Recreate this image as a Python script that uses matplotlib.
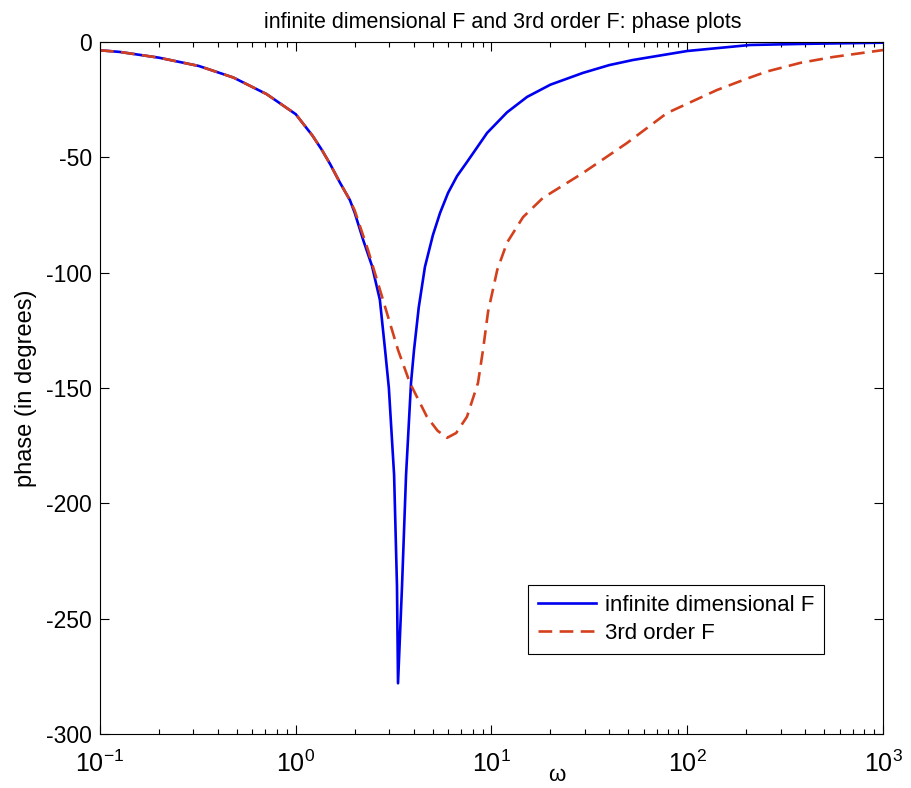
import matplotlib
matplotlib.use("Agg")
import matplotlib.pyplot as plt
import matplotlib.ticker as ticker

plt.rcParams['font.family'] = ['Liberation Sans', 'DejaVu Sans']
plt.rcParams['mathtext.fontset'] = 'custom'
plt.rcParams['mathtext.rm'] = 'Liberation Sans'
plt.rcParams['mathtext.it'] = 'Liberation Sans'
plt.rcParams['axes.unicode_minus'] = False
plt.rcParams['font.size'] = 16

# infinite dimensional F
w_inf = [0.1, 0.126, 0.2, 0.32, 0.48, 0.71, 1.0, 1.22, 1.36, 1.5, 1.68, 1.89,
         2.0, 2.21, 2.45, 2.69, 2.86, 2.99, 3.18, 3.29, 3.33, 3.49, 3.66, 3.88,
         4.02, 4.25, 4.57, 5.02, 5.46, 6.0, 6.67, 7.5, 9.5, 12.0, 15.2, 20.0,
         29.3, 40.0, 52.8, 100.0, 209.0, 400.0, 1000.0]
ph_inf = [-3.6, -4.3, -6.8, -10.4, -15.4, -22.6, -31.3, -40.7, -46.8, -53.0, -60.9, -68.5,
          -74.0, -85.8, -97.0, -111.8, -133.5, -150.0, -187.7, -236.0, -278.0, -236.0, -187.7, -147.8,
          -133.5, -115.0, -97.5, -83.7, -74.1, -65.4, -58.1, -52.0, -39.4, -30.5, -23.8, -18.5,
          -13.4, -10.0, -7.8, -3.9, -1.3, -0.8, -0.3]

# 3rd order F
w_3rd = [0.1, 0.126, 0.2, 0.32, 0.48, 0.71, 1.0, 1.22, 1.36, 1.5, 1.68, 1.89,
         2.0, 2.34, 2.79, 3.33, 3.83, 4.68, 5.3, 5.93, 6.6, 7.49, 8.53, 9.05,
         9.6, 10.7, 12.0, 14.5, 18.3, 29.3, 49.2, 78.8, 142.0, 200.0, 255.0, 380.0,
         556.0, 1000.0]
ph_3rd = [-3.6, -4.3, -6.8, -10.4, -15.4, -22.6, -31.3, -40.7, -46.8, -53.0, -60.9, -68.5,
          -73.0, -90.2, -111.8, -133.5, -147.8, -162.5, -168.5, -171.6, -169.5, -162.5, -147.8, -133.5,
          -117.0, -98.8, -87.0, -75.9, -67.6, -56.8, -43.8, -30.8, -20.8, -16.0, -12.8, -9.0,
          -6.5, -3.5]

fig = plt.figure(figsize=(9.12, 7.88), dpi=100)
ax = fig.add_axes([100/912, 1-734/788, 783/912, 692/788])

ax.semilogx(w_inf, ph_inf, color='#0000F0', lw=1.9, label='infinite dimensional F')
ax.semilogx(w_3rd, ph_3rd, color='#D4401C', lw=1.9, linestyle=(0, (5.2, 2.8)),
            label='3rd order F')

ax.set_xlim(0.1, 1000)
ax.set_ylim(-300, 0)
ax.yaxis.set_major_locator(ticker.MultipleLocator(50))
ax.xaxis.set_major_locator(ticker.LogLocator(base=10, numticks=10))
ax.xaxis.set_minor_locator(ticker.LogLocator(base=10, subs=range(2, 10), numticks=10))
ax.xaxis.set_minor_formatter(ticker.NullFormatter())

ax.tick_params(which='both', direction='in', top=True, right=True, width=0.8)
ax.tick_params(which='major', length=6.5)
ax.tick_params(which='minor', length=3.5)
ax.tick_params(axis='x', which='major', pad=12, labelsize=18)
ax.tick_params(axis='y', which='major', pad=6, labelsize=16.5)
for sp in ax.spines.values():
    sp.set_linewidth(0.8)

ax.set_title('infinite dimensional F and 3rd order F: phase plots', pad=10, fontsize=15.5, x=0.515)
ax.set_ylabel('phase (in degrees)', labelpad=6, fontsize=17)
ax.set_xlabel('ω', fontsize=16)
ax.xaxis.set_label_coords(0.584, -0.045)

leg = ax.legend(loc='upper left', bbox_to_anchor=(0.547, 0.215), fancybox=False,
                edgecolor='black', framealpha=1, handlelength=2.6, handletextpad=0.4,
                labelspacing=0.3, borderpad=0.45, borderaxespad=0)
leg.get_frame().set_linewidth(0.8)

fig.savefig('out.png', dpi=100)
